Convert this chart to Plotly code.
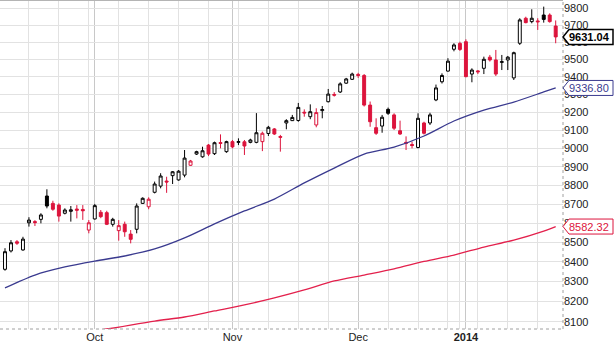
import math
import datetime as dt
import plotly.graph_objects as go

# ---------------- data ----------------
dates = [
    "2013-09-10", "2013-09-11", "2013-09-12", "2013-09-13", "2013-09-16", "2013-09-17", "2013-09-18",
    "2013-09-19", "2013-09-20", "2013-09-23", "2013-09-24", "2013-09-25", "2013-09-26", "2013-09-27",
    "2013-09-30", "2013-10-01", "2013-10-02", "2013-10-03", "2013-10-04", "2013-10-07", "2013-10-08",
    "2013-10-09", "2013-10-10", "2013-10-11", "2013-10-14", "2013-10-15", "2013-10-16", "2013-10-17",
    "2013-10-18", "2013-10-21", "2013-10-22", "2013-10-23", "2013-10-24", "2013-10-25", "2013-10-28",
    "2013-10-29", "2013-10-30", "2013-10-31", "2013-11-01", "2013-11-04", "2013-11-05", "2013-11-06",
    "2013-11-07", "2013-11-08", "2013-11-11", "2013-11-12", "2013-11-13", "2013-11-14", "2013-11-15",
    "2013-11-18", "2013-11-19", "2013-11-20", "2013-11-21", "2013-11-22", "2013-11-25", "2013-11-26",
    "2013-11-27", "2013-11-28", "2013-11-29", "2013-12-02", "2013-12-03", "2013-12-04", "2013-12-05",
    "2013-12-06", "2013-12-09", "2013-12-10", "2013-12-11", "2013-12-12", "2013-12-13", "2013-12-16",
    "2013-12-17", "2013-12-18", "2013-12-19", "2013-12-20", "2013-12-23", "2013-12-27", "2013-12-30",
    "2014-01-02", "2014-01-03", "2014-01-06", "2014-01-07", "2014-01-08", "2014-01-09", "2014-01-10",
    "2014-01-13", "2014-01-14", "2014-01-15", "2014-01-16", "2014-01-17", "2014-01-20", "2014-01-21",
    "2014-01-22", "2014-01-23",
]

opens = [
    8362, 8456, 8503, 8461, 8602, 8608, 8620, 8743, 8704, 8695,
    8652, 8662, 8674, 8672, 8564, 8622, 8657, 8655, 8594, 8561,
    8594, 8543, 8568, 8704, 8686, 8763, 8796, 8823, 8852, 8829,
    8855, 8908, 8969, 8954, 9018, 8971, 9032, 8982, 9037, 9033,
    9036, 9033, 9033, 9037, 9082, 9107, 9065, 9140, 9153, 9154,
    9200, 9175, 9129, 9209, 9259, 9300, 9314, 9364, 9386, 9414,
    9408, 9240, 9114, 9123, 9216, 9185, 9097, 9033, 9021, 9005,
    9140, 9140, 9269, 9372, 9433, 9559, 9593, 9603, 9416, 9434,
    9449, 9513, 9497, 9483, 9497, 9394, 9594, 9741, 9721, 9725,
    9760, 9760, 9695,
]
highs = [
    8470, 8512, 8512, 8529, 8631, 8616, 8652, 8779, 8718, 8704,
    8678, 8690, 8695, 8695, 8616, 8701, 8669, 8665, 8628, 8616,
    8608, 8564, 8704, 8736, 8736, 8820, 8865, 8846, 8877, 8882,
    8991, 8937, 8987, 9009, 9024, 9037, 9077, 9042, 9046, 9055,
    9046, 9053, 9195, 9092, 9124, 9112, 9074, 9161, 9185, 9252,
    9216, 9244, 9222, 9235, 9331, 9313, 9369, 9394, 9424, 9423,
    9416, 9260, 9166, 9185, 9226, 9194, 9153, 9066, 9037, 9194,
    9147, 9197, 9356, 9420, 9507, 9594, 9603, 9617, 9449, 9439,
    9516, 9526, 9555, 9526, 9520, 9545, 9741, 9750, 9794, 9741,
    9810, 9770, 9728,
]
lows = [
    8355, 8448, 8487, 8457, 8582, 8585, 8599, 8678, 8665, 8608,
    8646, 8608, 8625, 8617, 8547, 8619, 8626, 8590, 8582, 8509,
    8529, 8495, 8547, 8701, 8673, 8757, 8784, 8760, 8807, 8825,
    8843, 8905, 8964, 8949, 8958, 8964, 9000, 8976, 9000, 9018,
    8964, 9028, 9028, 8985, 9068, 9074, 8982, 9105, 9151, 9147,
    9175, 9161, 9116, 9166, 9255, 9288, 9308, 9360, 9382, 9394,
    9232, 9119, 9074, 9086, 9185, 9101, 9074, 8991, 9000, 9000,
    9076, 9129, 9262, 9362, 9430, 9547, 9549, 9398, 9369, 9416,
    9416, 9488, 9405, 9439, 9439, 9382, 9584, 9711, 9711, 9672,
    9715, 9715, 9594,
]
closes = [
    8452, 8498, 8496, 8517, 8616, 8603, 8643, 8690, 8673, 8637,
    8669, 8670, 8668, 8665, 8602, 8692, 8634, 8594, 8620, 8587,
    8555, 8516, 8690, 8731, 8726, 8807, 8850, 8818, 8873, 8876,
    8947, 8931, 8982, 8987, 8969, 9031, 9027, 9037, 9008, 9037,
    9013, 9046, 9086, 9083, 9116, 9079, 9061, 9153, 9171, 9227,
    9196, 9203, 9198, 9215, 9302, 9296, 9360, 9388, 9416, 9408,
    9240, 9147, 9083, 9172, 9194, 9111, 9079, 9028, 9016, 9166,
    9083, 9185, 9337, 9408, 9490, 9584, 9558, 9401, 9439, 9429,
    9501, 9497, 9416, 9487, 9513, 9539, 9731, 9715, 9741, 9720,
    9734, 9721, 9631.04,
]

# 50-day moving average (navy) sampled along the chart
ma50_dates = ["2013-09-10", "2013-09-17", "2013-09-24", "2013-10-01", "2013-10-08", "2013-10-15",
              "2013-10-22", "2013-10-29", "2013-11-05", "2013-11-12", "2013-11-19", "2013-11-26",
              "2013-12-03", "2013-12-10", "2013-12-17", "2013-12-27", "2014-01-07", "2014-01-14",
              "2014-01-21", "2014-01-23"]
ma50_vals = [8268, 8333, 8374, 8404, 8430, 8466, 8523, 8596, 8664, 8727, 8813, 8893,
             8969, 9007, 9068, 9151, 9212, 9257, 9314, 9336.80]

# 200-day moving average (red)
ma200_dates = ["2013-09-10", "2013-09-24", "2013-10-03", "2013-10-15", "2013-10-22", "2013-10-29",
               "2013-11-05", "2013-11-12", "2013-11-19", "2013-11-26", "2013-12-03", "2013-12-10",
               "2013-12-17", "2013-12-27", "2014-01-07", "2014-01-14", "2014-01-21", "2014-01-23"]
ma200_vals = [7986, 8035, 8064, 8103, 8123, 8153, 8183, 8218, 8258, 8303, 8333, 8364,
              8402, 8435, 8476, 8512, 8559, 8582.32]

month_tick_dates = ["2013-10-01", "2013-11-01", "2013-12-02", "2014-01-02"]
month_tick_labels = ["Oct", "Nov", "Dec", "<b>2014</b>"]
y_ticks = [8100, 8200, 8300, 8400, 8500, 8600, 8700, 8800, 8900, 9000,
           9100, 9200, 9300, 9400, 9500, 9600, 9700, 9800]

# ---------------- styling ----------------
RED = "#dc143c"
BLACK = "#000000"
NAVY = "#3a3a8f"
MA_RED = "#e3204c"
FONT = "Liberation Sans"

pos = {d: i for i, d in enumerate(dates)}
xs = list(range(len(dates)))
black_idx = [i for i in xs if i == 0 or closes[i] >= closes[i - 1]]
red_idx = [i for i in xs if not (i == 0 or closes[i] >= closes[i - 1])]
monday_idx = [pos[d] for d in dates if dt.date.fromisoformat(d).weekday() == 0]
month_idx = [pos[d] for d in month_tick_dates]


def candles(idxs, color):
    return go.Candlestick(
        x=idxs,
        open=[opens[i] for i in idxs],
        high=[highs[i] for i in idxs],
        low=[lows[i] for i in idxs],
        close=[closes[i] for i in idxs],
        increasing=dict(line=dict(color=color, width=1), fillcolor="white"),
        decreasing=dict(line=dict(color=color, width=1), fillcolor=color),
        whiskerwidth=0,
        hoverinfo="skip",
        showlegend=False,
    )


fig = go.Figure()
fig.add_trace(candles(black_idx, BLACK))
fig.add_trace(candles(red_idx, RED))
fig.add_trace(go.Scatter(x=[pos[d] for d in ma50_dates], y=ma50_vals, mode="lines",
                         line=dict(color=NAVY, width=1.3, shape="spline", smoothing=0.8),
                         hoverinfo="skip", showlegend=False))
fig.add_trace(go.Scatter(x=[pos[d] for d in ma200_dates], y=ma200_vals, mode="lines",
                         line=dict(color=MA_RED, width=1.3, shape="spline", smoothing=0.8),
                         hoverinfo="skip", showlegend=False))

shapes = [
    dict(type="line", xref="paper", yref="paper", x0=0, x1=1, y0=1, y1=1,
         line=dict(color="#b4b4b4", width=2), layer="above"),
    dict(type="line", xref="paper", yref="paper", x0=1, x1=1, y0=0, y1=1,
         line=dict(color="#a0a0a0", width=1, dash="dot"), layer="above"),
    dict(type="line", xref="paper", yref="paper", x0=0, x1=1, y0=0, y1=0,
         line=dict(color="#a0a0a0", width=1, dash="dot"), layer="above"),
]
annotations = []
for val, col, bold in [(closes[-1], BLACK, True), (ma50_vals[-1], NAVY, False), (ma200_vals[-1], RED, False)]:
    shapes.append(dict(type="path", xref="paper", yref="y", xsizemode="pixel", ysizemode="pixel",
                       xanchor=1, yanchor=val,
                       path="M0,0 L6,7.5 L50,7.5 L50,-7.5 L6,-7.5 Z",
                       fillcolor="white", line=dict(color=col, width=1.5 if bold else 1), layer="above"))
    txt = f"{val:.2f}"
    annotations.append(dict(xref="paper", yref="y", x=1, y=math.log10(val), xanchor="left",
                            yanchor="middle", xshift=4, text=f"<b>{txt}</b>" if bold else txt,
                            showarrow=False, font=dict(family=FONT, size=11, color=col)))

fig.update_layout(
    width=614, height=346,
    margin=dict(l=0, r=51, t=0, b=17),
    paper_bgcolor="white", plot_bgcolor="white",
    font=dict(family=FONT, size=11, color="#222"),
    showlegend=False,
    shapes=shapes,
    annotations=annotations,
    xaxis=dict(
        range=[-0.835, 93.22], tickmode="array", tickvals=month_idx, ticktext=month_tick_labels,
        showgrid=True, gridcolor="#c8c8c8", gridwidth=1, zeroline=False, showline=False, ticks="",
        minor=dict(tickmode="array", tickvals=monday_idx, showgrid=True, gridcolor="#e2e2e2", gridwidth=1),
        rangeslider=dict(visible=False), tickfont=dict(family=FONT, size=11, color="#222"),
        fixedrange=True,
    ),
    yaxis=dict(
        type="log", side="right", range=[math.log10(8064), math.log10(9849.6)],
        tickmode="array", tickvals=y_ticks, ticktext=[str(v) for v in y_ticks],
        showgrid=True, gridcolor="#e2e2e2", zeroline=False, showline=False, ticks="",
        tickfont=dict(family=FONT, size=11, color="#222"), fixedrange=True,
    ),
)

fig.write_html("out.html", config={"displayModeBar": False})
